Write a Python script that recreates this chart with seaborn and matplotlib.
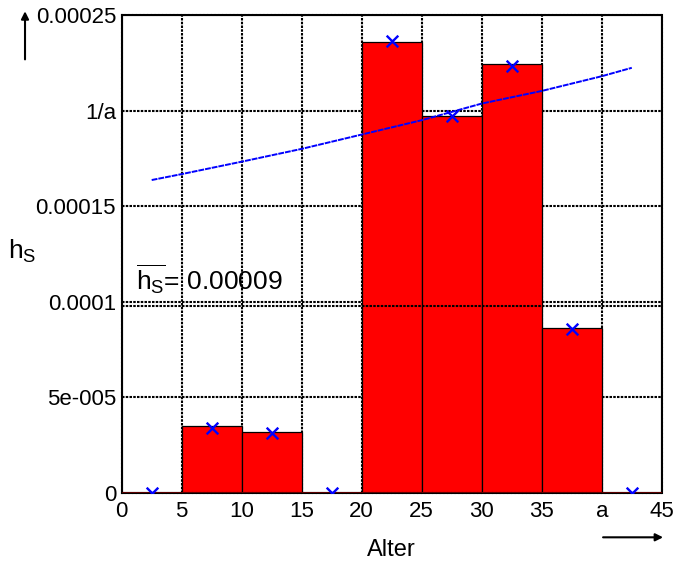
import numpy as np
import pandas as pd
import matplotlib.pyplot as plt
import seaborn as sns

# histogram: age bins (5 years) and rate heights
bin_edges = [0, 5, 10, 15, 20, 25, 30, 35, 40, 45]
bin_centers = [2.5, 7.5, 12.5, 17.5, 22.5, 27.5, 32.5, 37.5, 42.5]
bar_heights = [0.0, 3.5e-5, 3.19e-5, 0.0, 2.36e-4, 1.973e-4, 2.244e-4, 8.63e-5, 0.0]

# crosses at bin centers
marker_values = [0.0, 3.42e-5, 3.15e-5, 0.0, 2.365e-4, 1.97e-4, 2.235e-4, 8.6e-5, 0.0]

# fitted curve (blue line)
curve_age = [2.5, 5, 10, 15, 20, 25, 30, 35, 40, 42.5]
curve_values = [1.637e-4, 1.668e-4, 1.733e-4, 1.80e-4, 1.875e-4, 1.95e-4,
                2.037e-4, 2.103e-4, 2.18e-4, 2.224e-4]

x_ticks = [0, 5, 10, 15, 20, 25, 30, 35, 40, 45]
x_ticklabels = ['0', '5', '10', '15', '20', '25', '30', '35', 'a', '45']
y_ticks = [0, 5e-5, 1e-4, 1.5e-4, 2e-4, 2.5e-4]
y_ticklabels = ['0', '5e-005', '0.0001', '0.00015', '1/a', '0.00025']

mean_line = 9.78e-5

sns.set_style('white')
plt.rcParams['font.family'] = ['Liberation Sans', 'DejaVu Sans']
plt.rcParams['mathtext.fontset'] = 'custom'
plt.rcParams['mathtext.rm'] = 'Liberation Sans'
plt.rcParams['mathtext.it'] = 'Liberation Sans'
plt.rcParams['text.color'] = 'black'
plt.rcParams['axes.labelcolor'] = 'black'
plt.rcParams['xtick.color'] = 'black'
plt.rcParams['ytick.color'] = 'black'

fig = plt.figure(figsize=(6.76, 5.65), dpi=100)
ax = fig.add_axes([0.180, 0.1274, 0.799, 0.846])

df_bars = pd.DataFrame({'age': bin_centers, 'h': bar_heights})
sns.histplot(data=df_bars, x='age', weights='h', bins=bin_edges, stat='count',
             color='#ff0000', alpha=1.0, edgecolor='black', linewidth=0.9,
             ax=ax, zorder=2)

ax.axhline(mean_line, color='black', linestyle=(0, (1.2, 0.6)), linewidth=1.5, zorder=3)
ax.axhline(0, color='#7a0000', linewidth=1.8, zorder=3)

sns.lineplot(x=curve_age, y=curve_values, color='blue', linewidth=1.4,
             linestyle=(0, (3, 0.5)), ax=ax, zorder=4)
sns.scatterplot(x=bin_centers, y=marker_values, marker='x', color='blue',
                s=70, linewidth=1.7, ax=ax, zorder=5)

ax.set_xlim(0, 45)
ax.set_ylim(0, 2.5e-4)
ax.set_xticks(x_ticks)
ax.set_xticklabels(x_ticklabels, fontsize=16)
ax.set_yticks(y_ticks)
ax.set_yticklabels(y_ticklabels, fontsize=16)
ax.tick_params(axis='x', length=0, pad=6)
ax.tick_params(axis='y', length=0, pad=4)

ax.grid(True, color='black', linestyle=(0, (1.2, 0.6)), linewidth=1.5, zorder=0)
ax.set_axisbelow(True)
for sp in ax.spines.values():
    sp.set_linestyle((0, (1.2, 0.6)))
    sp.set_linewidth(1.5)
    sp.set_color('black')

ax.set_xlabel('Alter', fontsize=17, labelpad=12)
ax.set_ylabel('')
fig.text(0.012, 0.555, r'$\mathregular{h_S}$', fontsize=19, ha='left', va='center')
ax.text(1.2, 1.12e-4, r'$\mathregular{\overline{h_S}}$= 0.00009', fontsize=19,
        ha='left', va='center', zorder=6)

# axis direction arrows
ax.annotate('', xy=(0.037, 0.985), xytext=(0.037, 0.89), xycoords='figure fraction',
            arrowprops=dict(arrowstyle='-|>', color='black', lw=1.5, mutation_scale=11))
ax.annotate('', xy=(0.985, 0.049), xytext=(0.888, 0.049), xycoords='figure fraction',
            arrowprops=dict(arrowstyle='-|>', color='black', lw=1.5, mutation_scale=11))

fig.savefig('out.png', dpi=100)
